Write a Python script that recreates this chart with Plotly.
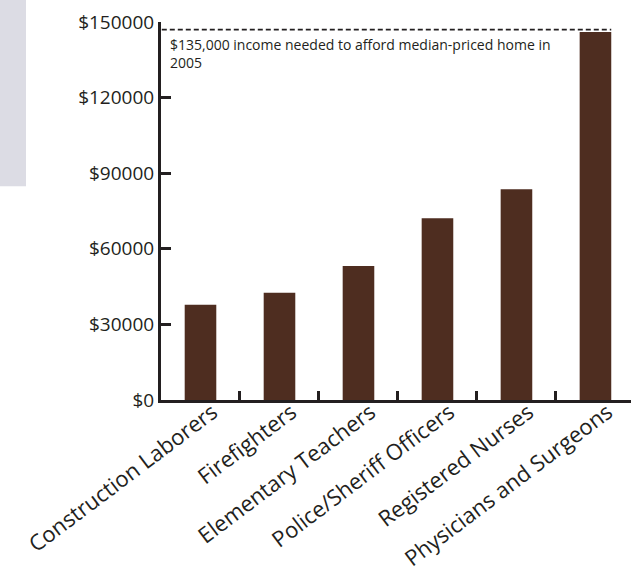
import plotly.graph_objects as go

categories = ["Construction Laborers", "Firefighters", "Elementary Teachers",
              "Police/Sheriff Officers", "Registered Nurses", "Physicians and Surgeons"]
incomes = [37800, 42600, 53200, 72100, 83600, 146000]
y_ticks = [0, 30000, 60000, 90000, 120000, 150000]
y_tick_labels = ["$0", "$30000", "$60000", "$90000", "$120000", "$150000"]
threshold_value = 147000
threshold_text = "$135,000 income needed to afford median-priced home in<br>2005"

positions = list(range(len(categories)))
boundaries = [p + 0.5 for p in positions[:-1]]

ink = "#231f20"
bar_color = "#4e2d20"
font_family = "Open Sans, Noto Sans, sans-serif"

fig = go.Figure()
fig.add_trace(go.Bar(x=positions, y=incomes, width=0.4,
                     marker=dict(color=bar_color, line=dict(width=0)),
                     hoverinfo="skip"))

fig.add_shape(type="line", xref="x", yref="y", x0=-0.49, x1=5.2,
              y0=threshold_value, y1=threshold_value,
              line=dict(color=ink, width=1.8, dash="5px,3px"))

fig.add_shape(type="rect", xref="paper", yref="paper",
              x0=-161/470, x1=(26-161)/470, y0=1 + 22/378, y1=(399.5-185.7)/378,
              fillcolor="#dcdce4", line=dict(width=0), layer="below")

fig.add_annotation(x=-0.5, y=threshold_value, xref="x", yref="y",
                   text=threshold_text, showarrow=False, align="left",
                   xanchor="left", yanchor="top", xshift=7, yshift=-3,
                   font=dict(family=font_family, size=14, color=ink))

fig.update_layout(
    width=631, height=577,
    margin=dict(l=161, r=0, t=22, b=177),
    plot_bgcolor="white", paper_bgcolor="white",
    showlegend=False,
    font=dict(family=font_family, color=ink),
    xaxis=dict(range=[-0.5, 5.45], tickvals=positions, ticktext=categories,
               tickangle=-37, ticks="", showgrid=False, zeroline=False,
               automargin=False, ticklabelshift=12, ticklabelstandoff=-12,
               showline=True, linecolor=ink, linewidth=3,
               tickfont=dict(family=font_family, size=22, color=ink),
               minor=dict(tickvals=boundaries, ticks="inside", ticklen=9,
                          tickwidth=3, tickcolor=ink, showgrid=False)),
    yaxis=dict(range=[0, 150000], tickvals=y_ticks, ticktext=y_tick_labels,
               ticks="inside", ticklen=10, tickwidth=3, tickcolor=ink,
               showgrid=False, zeroline=False, automargin=False,
               showline=True, linecolor=ink, linewidth=3,
               tickfont=dict(family=font_family, size=19, color=ink)),
)

fig.write_html("out.html", config={"displayModeBar": False},
               post_script="document.body.style.margin='0';")
